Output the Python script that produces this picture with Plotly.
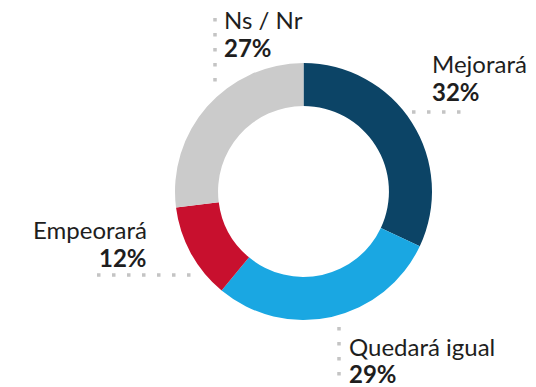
import plotly.graph_objects as go

# Survey answers, clockwise from 12 o'clock
categories = ["Mejorará", "Quedará igual", "Empeorará", "Ns / Nr"]
values = [32, 29, 12, 27]
colors = ["#0c4466", "#1aa7e2", "#c8102e", "#cbcbcb"]

W, H = 536, 387


def px(x):
    return x / W


def py(y):
    return 1 - y / H


fig = go.Figure(
    go.Pie(
        labels=categories,
        values=values,
        sort=False,
        direction="clockwise",
        rotation=0,
        hole=0.665,
        textinfo="none",
        hoverinfo="label+percent",
        marker=dict(colors=colors, line=dict(width=0)),
        domain=dict(x=[px(175), px(432)], y=[py(320), py(63)]),
        showlegend=False,
    )
)

FONT = "Lato, 'Open Sans', sans-serif"
TEXT = "#1e1e1e"
DOT = "#c4c4c4"
SIZE = 24

# label placement: x, name line centre, percent line centre, anchor
placements = [
    (432, 63, 91, "left"),     # Mejorará
    (349, 346, 373, "left"),   # Quedará igual
    (147, 229, 257, "right"),  # Empeorará
    (224, 19, 47, "left"),     # Ns / Nr
]

annotations = []
for i, (x, y_name, y_pct, xa) in enumerate(placements):
    for y, txt in ((y_name, categories[i]), (y_pct, f"<b>{values[i]}%</b>")):
        annotations.append(
            dict(
                x=px(x), y=py(y), xref="paper", yref="paper",
                xanchor=xa, yanchor="middle", align=xa,
                text=txt, showarrow=False, borderpad=0, borderwidth=0,
                font=dict(family=FONT, size=SIZE, color=TEXT),
            )
        )

# dotted leader lines
leaders = [
    (412, 112, 468, 112),   # Mejorará
    (339, 327, 339, 380),   # Quedará igual
    (97, 275, 195, 275),    # Empeorará
    (215, 18, 215, 86),     # Ns / Nr
]
shapes = []
for x0, y0, x1, y1 in leaders:
    shapes.append(
        dict(
            type="line", xref="paper", yref="paper",
            x0=px(x0), y0=py(y0), x1=px(x1), y1=py(y1),
            line=dict(color=DOT, width=3.5, dash="3.5px,11.5px"),
        )
    )

fig.update_layout(
    width=W, height=H,
    margin=dict(l=0, r=0, t=0, b=0),
    paper_bgcolor="white",
    plot_bgcolor="white",
    annotations=annotations,
    shapes=shapes,
)

fig.write_html("out.html")
